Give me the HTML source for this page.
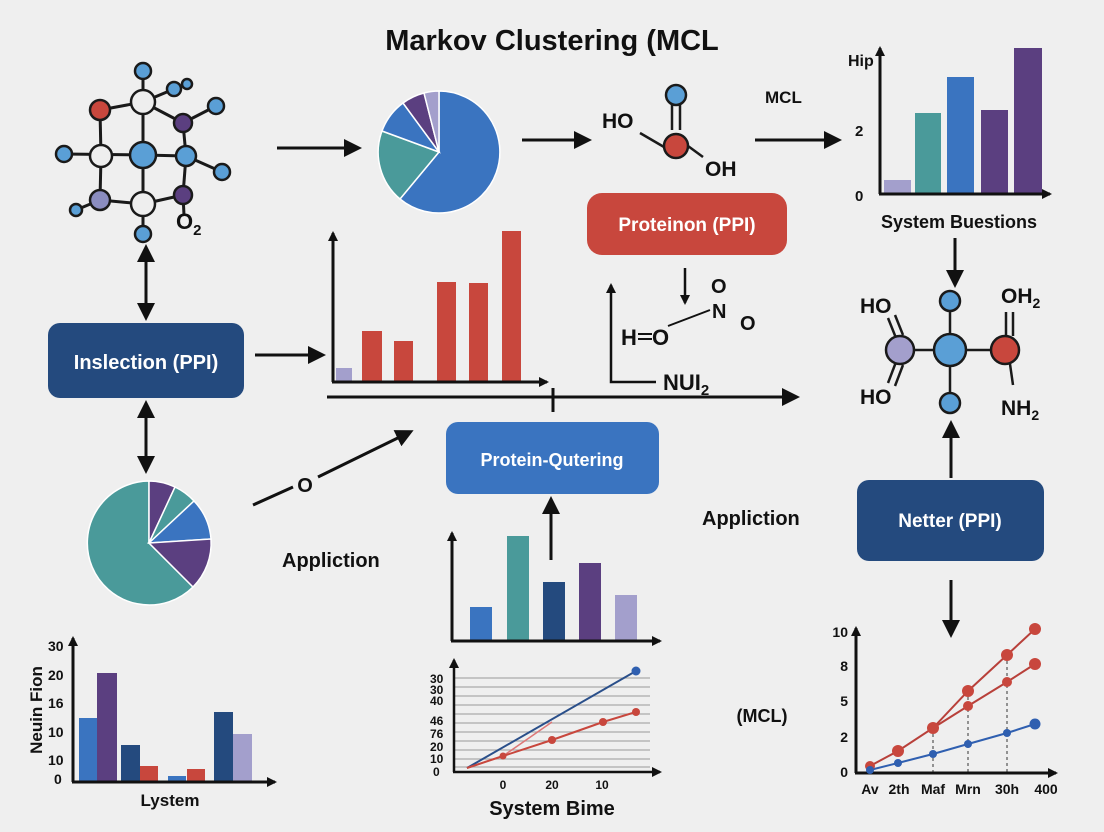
<!DOCTYPE html>
<html><head><meta charset="utf-8"><style>
html,body{margin:0;padding:0;background:#efefef}
svg{display:block}
text{font-family:"Liberation Sans",Arial,sans-serif;font-weight:bold;fill:#111}
</style></head><body>
<svg width="1104" height="832" viewBox="0 0 1104 832" xmlns="http://www.w3.org/2000/svg">
<defs>
<marker id="ah" markerWidth="10" markerHeight="10" refX="8" refY="5" orient="auto" markerUnits="userSpaceOnUse" viewBox="0 0 10 10"><path d="M0,0 L10,5 L0,10 z" fill="#111"/></marker>
<marker id="ahb" markerWidth="18" markerHeight="18" refX="14" refY="9" orient="auto-start-reverse" markerUnits="userSpaceOnUse" viewBox="0 0 18 18"><path d="M0,0 L18,9 L0,18 z" fill="#111"/></marker>
</defs>
<rect width="1104" height="832" fill="#efefef"/>
<text x="552" y="50" font-size="29" text-anchor="middle">Markov Clustering (MCL</text>

<!-- molecule top-left -->
<g stroke="#1a1a1a" stroke-width="3">
<line x1="100" y1="110" x2="143" y2="102"/><line x1="143" y1="102" x2="143" y2="71"/><line x1="143" y1="102" x2="174" y2="89"/>
<line x1="143" y1="102" x2="183" y2="123"/><line x1="183" y1="123" x2="216" y2="106"/><line x1="143" y1="102" x2="143" y2="155"/>
<line x1="100" y1="110" x2="101" y2="156"/><line x1="64" y1="154" x2="143" y2="155"/><line x1="143" y1="155" x2="186" y2="156"/>
<line x1="186" y1="156" x2="222" y2="172"/><line x1="186" y1="156" x2="183" y2="195"/><line x1="183" y1="123" x2="186" y2="156"/>
<line x1="101" y1="156" x2="100" y2="200"/><line x1="76" y1="210" x2="100" y2="200"/><line x1="100" y1="200" x2="143" y2="204"/>
<line x1="143" y1="155" x2="143" y2="234"/><line x1="143" y1="204" x2="183" y2="195"/><line x1="183" y1="195" x2="184" y2="215"/>
</g>
<g stroke="#1a1a1a" stroke-width="2.5">
<circle cx="143" cy="71" r="8" fill="#5a9fd6"/><circle cx="174" cy="89" r="7" fill="#5a9fd6"/><circle cx="187" cy="84" r="5" fill="#5a9fd6"/>
<circle cx="100" cy="110" r="10" fill="#c8473d"/><circle cx="143" cy="102" r="12" fill="#eeeeee"/><circle cx="183" cy="123" r="9" fill="#5b3f80"/>
<circle cx="216" cy="106" r="8" fill="#5a9fd6"/><circle cx="64" cy="154" r="8" fill="#5a9fd6"/><circle cx="101" cy="156" r="11" fill="#eeeeee"/>
<circle cx="143" cy="155" r="13" fill="#5a9fd6"/><circle cx="186" cy="156" r="10" fill="#5a9fd6"/><circle cx="222" cy="172" r="8" fill="#5a9fd6"/>
<circle cx="76" cy="210" r="6" fill="#5a9fd6"/><circle cx="100" cy="200" r="10" fill="#8b8dc0"/><circle cx="143" cy="204" r="12" fill="#eeeeee"/>
<circle cx="183" cy="195" r="9" fill="#5b3f80"/><circle cx="143" cy="234" r="8" fill="#5a9fd6"/>
</g>
<text x="176" y="229" font-size="22">O<tspan font-size="15" dy="6">2</tspan></text>

<line x1="277" y1="148" x2="358" y2="148" stroke="#111" stroke-width="3" marker-end="url(#ahb)"/>
<g stroke="#fff" stroke-width="1.5">
<path d="M439,152 L439,91 A61,61 0 1 1 400,199 Z" fill="#3a74c0"/>
<path d="M439,152 L400,199 A61,61 0 0 1 382,131 Z" fill="#4a9a9a"/>
<path d="M439,152 L382,131 A61,61 0 0 1 403,103 Z" fill="#3a74c0"/>
<path d="M439,152 L403,103 A61,61 0 0 1 424,93 Z" fill="#5b3f80"/>
<path d="M439,152 L424,93 A61,61 0 0 1 439,91 Z" fill="#a39fcc"/>
</g>
<line x1="522" y1="140" x2="588" y2="140" stroke="#111" stroke-width="3" marker-end="url(#ahb)"/>
<g stroke="#1a1a1a" stroke-width="2.5">
<line x1="672" y1="104" x2="672" y2="130"/><line x1="680" y1="104" x2="680" y2="130"/>
<line x1="640" y1="133" x2="664" y2="147"/><line x1="688" y1="146" x2="703" y2="157"/>
<circle cx="676" cy="95" r="10" fill="#5a9fd6"/><circle cx="676" cy="146" r="12" fill="#c8473d"/>
</g>
<text x="602" y="128" font-size="21">HO</text><text x="705" y="176" font-size="21">OH</text>
<text x="765" y="103" font-size="17">MCL</text>
<line x1="755" y1="140" x2="838" y2="140" stroke="#111" stroke-width="3" marker-end="url(#ahb)"/>

<rect x="884" y="180" width="27" height="13" fill="#a39fcc"/>
<rect x="915" y="113" width="26" height="80" fill="#4a9a9a"/>
<rect x="947" y="77" width="27" height="116" fill="#3a74c0"/>
<rect x="981" y="110" width="27" height="83" fill="#5b3f80"/>
<rect x="1014" y="48" width="28" height="145" fill="#5b3f80"/>
<line x1="880" y1="194" x2="880" y2="48" stroke="#111" stroke-width="3" marker-end="url(#ah)"/>
<line x1="879" y1="194" x2="1050" y2="194" stroke="#111" stroke-width="3" marker-end="url(#ah)"/>
<text x="848" y="66" font-size="16">Hip</text><text x="855" y="136" font-size="15">2</text><text x="855" y="201" font-size="15">0</text>
<text x="959" y="228" font-size="18" text-anchor="middle">System Buestions</text>
<line x1="955" y1="238" x2="955" y2="284" stroke="#111" stroke-width="3" marker-end="url(#ahb)"/>

<g stroke="#1a1a1a" stroke-width="2.5">
<line x1="900" y1="350" x2="1005" y2="350"/><line x1="950" y1="301" x2="950" y2="403"/>
<line x1="888" y1="318" x2="896" y2="338"/><line x1="895" y1="315" x2="903" y2="335"/>
<line x1="888" y1="383" x2="896" y2="362"/><line x1="895" y1="386" x2="903" y2="365"/>
<line x1="1006" y1="312" x2="1006" y2="336"/><line x1="1013" y1="312" x2="1013" y2="336"/>
<line x1="1010" y1="364" x2="1013" y2="385"/>
<circle cx="950" cy="301" r="10" fill="#5a9fd6"/><circle cx="950" cy="350" r="16" fill="#5a9fd6"/>
<circle cx="900" cy="350" r="14" fill="#a39fcc"/><circle cx="1005" cy="350" r="14" fill="#c8473d"/>
<circle cx="950" cy="403" r="10" fill="#5a9fd6"/>
</g>
<text x="860" y="313" font-size="21">HO</text><text x="860" y="404" font-size="21">HO</text>
<text x="1001" y="303" font-size="21">OH<tspan font-size="14" dy="5">2</tspan></text>
<text x="1001" y="415" font-size="21">NH<tspan font-size="14" dy="5">2</tspan></text>

<rect x="587" y="193" width="200" height="62" rx="15" fill="#c8473d"/>
<text x="687" y="231" font-size="19" text-anchor="middle" style="fill:#fff">Proteinon (PPI)</text>
<line x1="685" y1="268" x2="685" y2="303" stroke="#111" stroke-width="2.5" marker-end="url(#ah)"/>
<text x="711" y="293" font-size="20">O</text><text x="712" y="318" font-size="20">N</text><text x="740" y="330" font-size="20">O</text>
<line x1="668" y1="326" x2="710" y2="310" stroke="#111" stroke-width="2"/>
<text x="621" y="345" font-size="22">H</text>
<line x1="638" y1="334" x2="652" y2="334" stroke="#111" stroke-width="2"/><line x1="638" y1="339" x2="652" y2="339" stroke="#111" stroke-width="2"/>
<text x="652" y="345" font-size="22">O</text>
<polyline points="656,382 611,382 611,285" fill="none" stroke="#111" stroke-width="2.5" marker-end="url(#ah)"/>
<text x="663" y="390" font-size="22">NUI<tspan font-size="15" dy="5">2</tspan></text>

<line x1="327" y1="397" x2="796" y2="397" stroke="#111" stroke-width="3" marker-end="url(#ahb)"/>
<line x1="553" y1="388" x2="553" y2="412" stroke="#111" stroke-width="3"/>

<rect x="336" y="368" width="16" height="13" fill="#a39fcc"/>
<rect x="362" y="331" width="20" height="50" fill="#c8473d"/>
<rect x="394" y="341" width="19" height="40" fill="#c8473d"/>
<rect x="437" y="282" width="19" height="99" fill="#c8473d"/>
<rect x="469" y="283" width="19" height="98" fill="#c8473d"/>
<rect x="502" y="231" width="19" height="150" fill="#c8473d"/>
<line x1="333" y1="382" x2="333" y2="233" stroke="#111" stroke-width="3" marker-end="url(#ah)"/>
<line x1="332" y1="382" x2="547" y2="382" stroke="#111" stroke-width="3" marker-end="url(#ah)"/>

<rect x="48" y="323" width="196" height="75" rx="12" fill="#244a7e"/>
<text x="146" y="369" font-size="20" text-anchor="middle" style="fill:#fff">Inslection (PPI)</text>
<line x1="146" y1="248" x2="146" y2="317" stroke="#111" stroke-width="3" marker-start="url(#ahb)" marker-end="url(#ahb)"/>
<line x1="146" y1="404" x2="146" y2="470" stroke="#111" stroke-width="3" marker-start="url(#ahb)" marker-end="url(#ahb)"/>
<line x1="255" y1="355" x2="322" y2="355" stroke="#111" stroke-width="3" marker-end="url(#ahb)"/>

<!-- left pie -->
<g stroke="#fff" stroke-width="1.5">
<path d="M149,543 L193,587 A62,62 0 1 1 149,481 Z" fill="#4a9a9a"/>
<path d="M149,543 L149,481 A62,62 0 0 1 175,487 Z" fill="#5b3f80"/>
<path d="M149,543 L175,487 A62,62 0 0 1 194,501 Z" fill="#4a9a9a"/>
<path d="M149,543 L194,501 A62,62 0 0 1 211,539 Z" fill="#3a74c0"/>
<path d="M149,543 L211,539 A62,62 0 0 1 193,587 Z" fill="#5b3f80"/>
</g>

<line x1="253" y1="505" x2="293" y2="487" stroke="#111" stroke-width="3"/>
<line x1="318" y1="477" x2="410" y2="432" stroke="#111" stroke-width="3" marker-end="url(#ahb)"/>
<text x="305" y="492" font-size="20" text-anchor="middle">O</text>
<text x="282" y="567" font-size="20">Appliction</text>
<text x="702" y="525" font-size="20">Appliction</text>

<rect x="446" y="422" width="213" height="72" rx="12" fill="#3a74c0"/>
<text x="552" y="466" font-size="18" text-anchor="middle" style="fill:#fff">Protein-Qutering</text>
<line x1="551" y1="560" x2="551" y2="500" stroke="#111" stroke-width="3" marker-end="url(#ahb)"/>

<rect x="470" y="607" width="22" height="33" fill="#3a74c0"/>
<rect x="507" y="536" width="22" height="104" fill="#4a9a9a"/>
<rect x="543" y="582" width="22" height="58" fill="#244a7e"/>
<rect x="579" y="563" width="22" height="77" fill="#5b3f80"/>
<rect x="615" y="595" width="22" height="45" fill="#a39fcc"/>
<line x1="452" y1="641" x2="452" y2="533" stroke="#111" stroke-width="3" marker-end="url(#ah)"/>
<line x1="451" y1="641" x2="660" y2="641" stroke="#111" stroke-width="3" marker-end="url(#ah)"/>

<g stroke="#aaa" stroke-width="1.2">
<line x1="455" y1="678" x2="650" y2="678"/><line x1="455" y1="687" x2="650" y2="687"/><line x1="455" y1="696" x2="650" y2="696"/>
<line x1="455" y1="705" x2="650" y2="705"/><line x1="455" y1="714" x2="650" y2="714"/><line x1="455" y1="723" x2="650" y2="723"/>
<line x1="455" y1="732" x2="650" y2="732"/><line x1="455" y1="741" x2="650" y2="741"/><line x1="455" y1="750" x2="650" y2="750"/>
<line x1="455" y1="759" x2="650" y2="759"/><line x1="455" y1="767" x2="650" y2="767"/>
</g>
<line x1="454" y1="772" x2="454" y2="660" stroke="#111" stroke-width="2.5" marker-end="url(#ah)"/>
<line x1="453" y1="772" x2="660" y2="772" stroke="#111" stroke-width="2.5" marker-end="url(#ah)"/>
<g font-size="12">
<text x="430" y="683">30</text><text x="430" y="694">30</text><text x="430" y="705">40</text><text x="430" y="725">46</text>
<text x="430" y="738">76</text><text x="430" y="751">20</text><text x="430" y="763">10</text><text x="433" y="776">0</text>
<text x="503" y="789" text-anchor="middle">0</text><text x="552" y="789" text-anchor="middle">20</text><text x="602" y="789" text-anchor="middle">10</text>
</g>
<polyline points="467,768 503,756 552,722" fill="none" stroke="#d77" stroke-width="1.5"/>
<polyline points="467,768 636,671" fill="none" stroke="#2a4f8a" stroke-width="2"/>
<polyline points="467,768 503,756 552,740 603,722 636,712" fill="none" stroke="#c8473d" stroke-width="2"/>
<circle cx="636" cy="671" r="4.5" fill="#2f5fb0"/><circle cx="636" cy="712" r="4" fill="#c8473d"/>
<circle cx="603" cy="722" r="4" fill="#c8473d"/><circle cx="552" cy="740" r="4" fill="#c8473d"/><circle cx="503" cy="756" r="3.5" fill="#c8473d"/>
<text x="552" y="815" font-size="20" text-anchor="middle">System Bime</text>

<rect x="79" y="718" width="18" height="63" fill="#3a74c0"/>
<rect x="97" y="673" width="20" height="108" fill="#5b3f80"/>
<rect x="121" y="745" width="19" height="36" fill="#244a7e"/>
<rect x="140" y="766" width="18" height="15" fill="#c8473d"/>
<rect x="168" y="776" width="18" height="5" fill="#3a74c0"/>
<rect x="187" y="769" width="18" height="12" fill="#c8473d"/>
<rect x="214" y="712" width="19" height="69" fill="#244a7e"/>
<rect x="233" y="734" width="19" height="47" fill="#a39fcc"/>
<line x1="73" y1="782" x2="73" y2="638" stroke="#111" stroke-width="3" marker-end="url(#ah)"/>
<line x1="72" y1="782" x2="275" y2="782" stroke="#111" stroke-width="3" marker-end="url(#ah)"/>
<g font-size="14">
<text x="48" y="651">30</text><text x="48" y="680">20</text><text x="48" y="708">16</text>
<text x="48" y="737">10</text><text x="48" y="765">10</text><text x="54" y="784">0</text>
</g>
<text x="0" y="0" font-size="17" text-anchor="middle" transform="translate(42,710) rotate(-90)">Neuin Fion</text>
<text x="170" y="806" font-size="17" text-anchor="middle">Lystem</text>

<rect x="857" y="480" width="187" height="81" rx="12" fill="#244a7e"/>
<text x="950" y="527" font-size="19" text-anchor="middle" style="fill:#fff">Netter (PPI)</text>
<line x1="951" y1="478" x2="951" y2="424" stroke="#111" stroke-width="3" marker-end="url(#ahb)"/>
<line x1="951" y1="580" x2="951" y2="634" stroke="#111" stroke-width="3" marker-end="url(#ahb)"/>
<text x="762" y="722" font-size="18" text-anchor="middle">(MCL)</text>

<g stroke="#555" stroke-width="1.2" stroke-dasharray="3,3">
<line x1="933" y1="728" x2="933" y2="772"/><line x1="968" y1="691" x2="968" y2="772"/><line x1="1007" y1="655" x2="1007" y2="772"/>
</g>
<line x1="856" y1="773" x2="856" y2="628" stroke="#111" stroke-width="3" marker-end="url(#ah)"/>
<line x1="855" y1="773" x2="1056" y2="773" stroke="#111" stroke-width="3" marker-end="url(#ah)"/>
<g font-size="14">
<text x="848" y="637" text-anchor="end">10</text><text x="848" y="671" text-anchor="end">8</text>
<text x="848" y="706" text-anchor="end">5</text><text x="848" y="742" text-anchor="end">2</text><text x="848" y="777" text-anchor="end">0</text>
<text x="870" y="794" text-anchor="middle">Av</text><text x="899" y="794" text-anchor="middle">2th</text><text x="933" y="794" text-anchor="middle">Maf</text>
<text x="968" y="794" text-anchor="middle">Mrn</text><text x="1007" y="794" text-anchor="middle">30h</text><text x="1046" y="794" text-anchor="middle">400</text>
</g>
<polyline points="870,766 898,751 933,728 968,691 1007,655 1035,629" fill="none" stroke="#b8403a" stroke-width="2"/>
<polyline points="933,728 968,706 1007,682 1035,664" fill="none" stroke="#b8403a" stroke-width="2"/>
<polyline points="870,770 898,763 933,754 968,744 1007,733 1035,724" fill="none" stroke="#2f5fb0" stroke-width="2"/>
<g fill="#c8473d">
<circle cx="870" cy="766" r="5"/><circle cx="898" cy="751" r="6"/><circle cx="933" cy="728" r="6"/><circle cx="968" cy="691" r="6"/>
<circle cx="1007" cy="655" r="6"/><circle cx="1035" cy="629" r="6"/><circle cx="968" cy="706" r="5"/><circle cx="1007" cy="682" r="5"/><circle cx="1035" cy="664" r="6"/>
</g>
<g fill="#2f5fb0">
<circle cx="870" cy="770" r="4"/><circle cx="898" cy="763" r="4"/><circle cx="933" cy="754" r="4"/><circle cx="968" cy="744" r="4"/>
<circle cx="1007" cy="733" r="4"/><circle cx="1035" cy="724" r="5.5"/>
</g>
</svg>
</body></html>
